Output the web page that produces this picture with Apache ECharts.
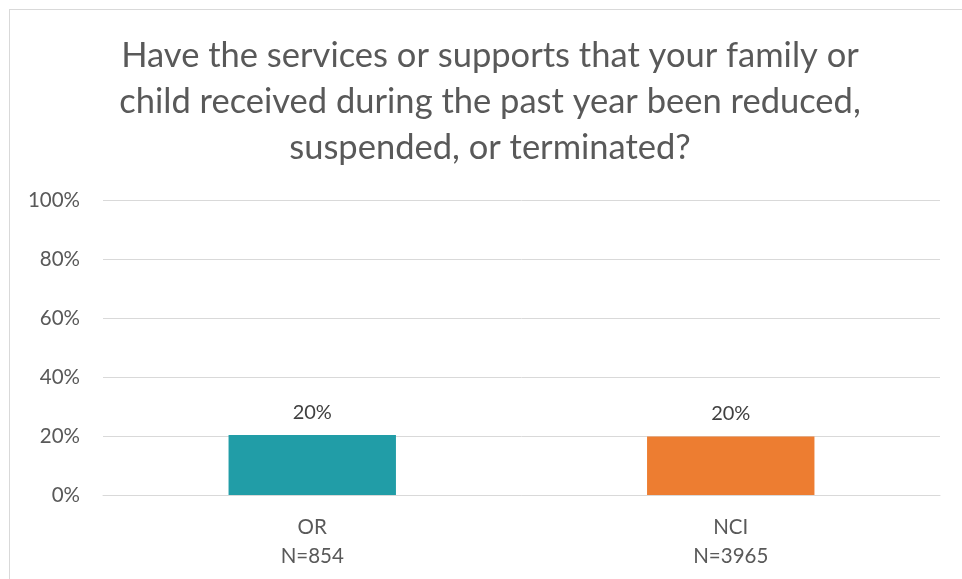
<!DOCTYPE html>
<html>
<head>
<meta charset="utf-8">
<script src="https://cdn.jsdelivr.net/npm/echarts@6/dist/echarts.min.js"></script>
<style>
html,body{margin:0;padding:0;background:#fff;}
#frame{position:absolute;left:9px;top:9px;width:960px;height:580px;border-left:1px solid #d9d9d9;border-top:1px solid #d9d9d9;}
#chart{position:absolute;left:0;top:0;width:962px;height:579px;}
</style>
</head>
<body>
<div id="frame"></div>
<div id="chart"></div>
<script>
const titleText = "Have the services or supports that your family or\nchild received during the past year been reduced,\nsuspended, or terminated?";
const categories = ["OR\nN=854", "NCI\nN=3965"];
const values = [0.203, 0.198];
const barColors = ["#219DA7", "#ED7D31"];
const yTicks = { min: 0, max: 1, interval: 0.2 };

const chart = echarts.init(document.getElementById('chart'), null, { renderer: 'canvas' });
chart.setOption({
  backgroundColor: 'transparent',
  animation: false,
  title: {
    text: titleText,
    left: 485,
    textAlign: 'center',
    top: 28,
    textStyle: {
      fontFamily: 'Lato',
      fontSize: 34.5,
      fontWeight: 'normal',
      color: '#595959',
      lineHeight: 46
    }
  },
  grid: { left: 103, right: 22, top: 200, bottom: 84 },
  xAxis: {
    type: 'category',
    data: categories,
    axisLine: { show: true, lineStyle: { color: '#d9d9d9', width: 1 } },
    axisTick: { show: false },
    axisLabel: {
      color: '#595959',
      fontFamily: 'Lato',
      fontSize: 20.5,
      lineHeight: 29,
      margin: 18
    }
  },
  yAxis: {
    type: 'value',
    min: yTicks.min,
    max: yTicks.max,
    interval: yTicks.interval,
    axisLine: { show: false },
    axisTick: { show: false },
    splitLine: { lineStyle: { color: '#d9d9d9', width: 1 } },
    axisLabel: {
      color: '#595959',
      fontFamily: 'Lato',
      fontSize: 20.5,
      margin: 23,
      formatter: v => Math.round(v * 100) + '%'
    }
  },
  series: [{
    type: 'bar',
    data: values.map((v, i) => ({ value: v, itemStyle: { color: barColors[i] } })),
    barWidth: '40%',
    label: {
      show: true,
      position: 'top',
      distance: 13,
      color: '#404040',
      fontFamily: 'Lato',
      fontSize: 20,
      formatter: p => Math.round(p.value * 100) + '%'
    }
  }]
});
</script>
</body>
</html>
